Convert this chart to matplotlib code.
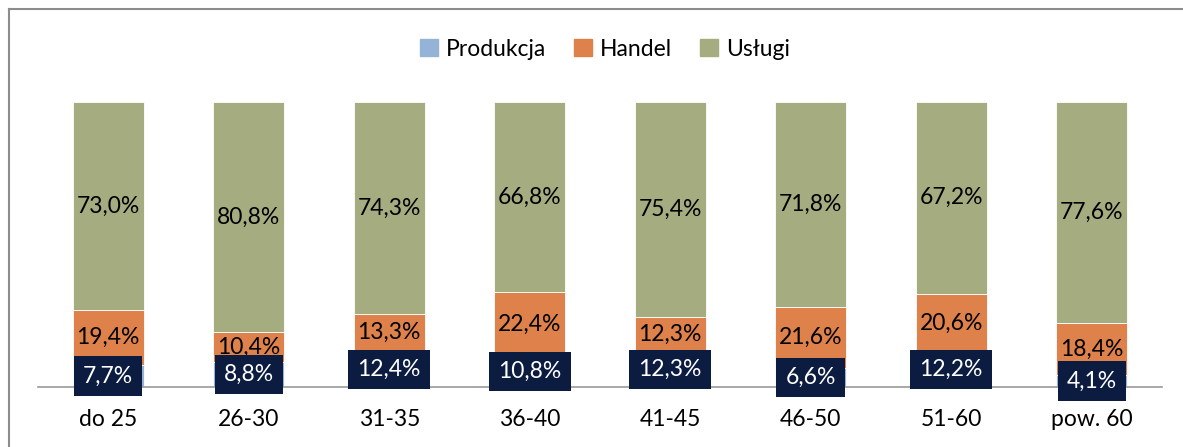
import numpy as np
import matplotlib.pyplot as plt
from matplotlib.patches import Patch

plt.rcParams['font.family'] = ['Lato', 'DejaVu Sans']

categories = ['do 25', '26-30', '31-35', '36-40', '41-45', '46-50', '51-60', 'pow. 60']
produkcja = [7.7, 8.8, 12.4, 10.8, 12.3, 6.6, 12.2, 4.1]
handel = [19.4, 10.4, 13.3, 22.4, 12.3, 21.6, 20.6, 18.4]
uslugi = [73.0, 80.8, 74.3, 66.8, 75.4, 71.8, 67.2, 77.6]

series = [('Produkcja', produkcja, '#95B3D7'),
          ('Handel', handel, '#DE814A'),
          ('Usługi', uslugi, '#A4AC80')]

W, H = 1183, 447
fig = plt.figure(figsize=(W / 100, H / 100), dpi=100)

# outer frame (only top/left visible in the original)
fig.add_artist(plt.Line2D([9 / W, 1], [1 - 9 / H, 1 - 9 / H], color='#8c8c8c', lw=1.5))
fig.add_artist(plt.Line2D([9 / W, 9 / W], [0, 1 - 9 / H], color='#8c8c8c', lw=1.5))

ax = fig.add_axes([38 / W, (H - 387) / H, 1124 / W, 285 / H])

x = np.arange(len(categories))
totals = np.array(produkcja) + np.array(handel) + np.array(uslugi)
bottom = np.zeros(len(categories))
fs = 16.5
for name, vals, col in series:
    share = np.array(vals) / totals
    ax.bar(x, share, 0.505, bottom=bottom, color=col, label=name,
           edgecolor='white', linewidth=0.6)
    for xi, b, s, v in zip(x, bottom, share, vals):
        txt = f'{v:.1f}%'.replace('.', ',')
        if name == 'Produkcja':
            ax.text(xi, b + s / 2, txt, ha='center', va='center', fontsize=fs,
                    color='white', zorder=5,
                    bbox=dict(boxstyle='square,pad=0.4', fc='#0C1C40', ec='none'))
        else:
            ax.text(xi, b + s / 2, txt, ha='center', va='center', fontsize=fs,
                    color='black')
    bottom += share

ax.set_xlim(-0.5, len(categories) - 0.5)
ax.set_ylim(0, 1)
ax.set_yticks([])
ax.set_xticks(x)
ax.set_xticklabels(categories, fontsize=fs)
ax.tick_params(axis='x', length=0, pad=16)
for s in ['top', 'left', 'right']:
    ax.spines[s].set_visible(False)
ax.spines['bottom'].set_color('#9a9a9a')
ax.spines['bottom'].set_linewidth(1.2)

handles = [Patch(color=c, label=n) for n, v, c in series]
fig.legend(handles=handles, loc='center', bbox_to_anchor=(605 / W, 1 - 49 / H),
           ncol=3, frameon=False, fontsize=fs, handlelength=0.8, handleheight=0.8,
           handletextpad=0.35, columnspacing=1.2)

fig.savefig('out.png', dpi=100)
